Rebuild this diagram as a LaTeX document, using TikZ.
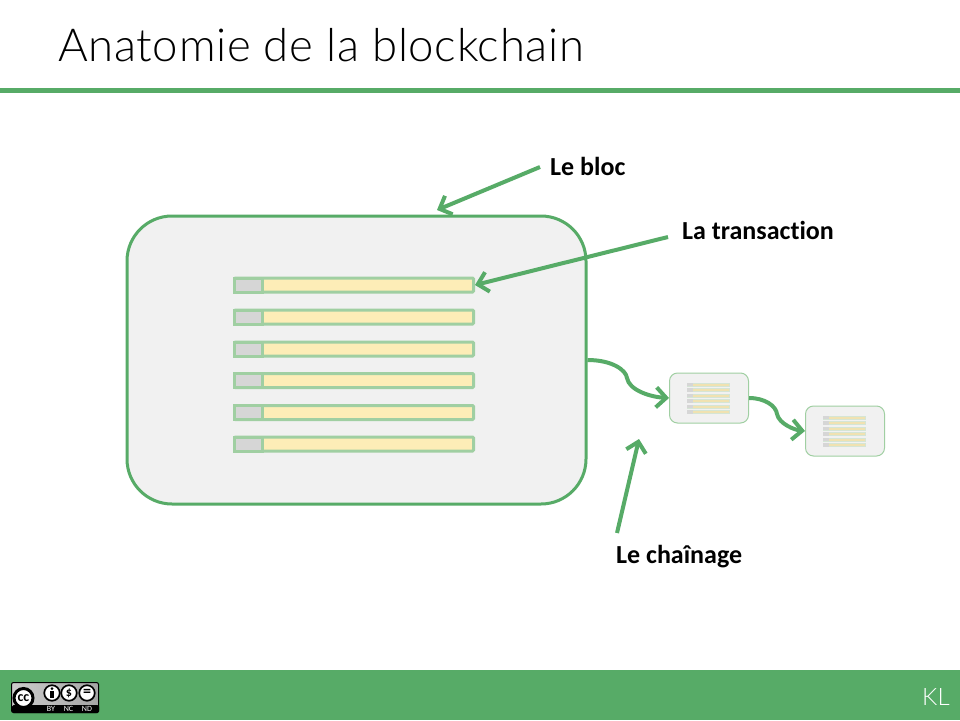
\documentclass[tikz,border=0pt]{standalone}
\usepackage{fontspec}
\setmainfont[Ligatures=NoCommon]{Carlito}
\newfontfamily\titlefont[LetterSpace=1.5]{Lato Light}
\usetikzlibrary{arrows.meta}
\definecolor{kgreen}{HTML}{57AB67}
\definecolor{krow}{HTML}{A0CFA2}
\definecolor{kbloc}{HTML}{F1F1F1}
\definecolor{ktx}{HTML}{FDEDB7}
\definecolor{kid}{HTML}{D6D6D6}
\tikzset{
  bloc/.style={draw=kgreen,fill=kbloc,line width=3pt,rounded corners=45pt,minimum width=459pt,minimum height=288pt,inner sep=0},
  minibloc/.style={draw=krow,fill=kbloc,line width=1pt,rounded corners=8pt,minimum width=79pt,minimum height=50pt,inner sep=0},
  tx/.style={draw=krow,fill=ktx,line width=3pt,rounded corners=1pt,minimum width=239pt,minimum height=14pt,inner sep=0},
  txid/.style={draw=krow,fill=kid,line width=3pt,minimum width=28pt,minimum height=14pt,inner sep=0},
  minitx/.style={draw=krow!35!kbloc,fill=ktx!90!gray,line width=.6pt,minimum width=42.5pt,minimum height=2.8pt,inner sep=0},
  miniid/.style={fill=kid,minimum width=5.5pt,minimum height=3.4pt,inner sep=0},
  lien/.style={draw=kgreen,line width=4pt,-{Straight Barb[length=10pt,width=20pt,line width=4pt]}},
  lbl/.style={font=\bfseries\fontsize{26}{30}\selectfont,anchor=west,inner sep=0},
  ccicon/.style={circle,draw=black,fill=white,line width=1.7pt,minimum size=15.5pt,inner sep=0},
  cctxt/.style={text=white,font=\fontsize{8}{9}\selectfont,inner sep=0}
}
\begin{document}
\begin{tikzpicture}[x=1pt,y=-1pt]
\useasboundingbox (0,0) rectangle (960,720);
\fill[white] (0,0) rectangle (960,720);

% title and footer
\node[anchor=base west,inner sep=0,font=\titlefont\fontsize{45.5}{50}\selectfont] (titre) at (58,61) {Anatomie de la blockchain};
\fill[kgreen] (0,88) rectangle (960,93);
\fill[kgreen] (0,670) rectangle (960,720);
\node[text=white,font=\titlefont\fontsize{24}{26}\selectfont,inner sep=0] (kl) at (936,697) {KL};

% licence badge
\node[draw=black,left color=gray!40,right color=gray!70,line width=1pt,rounded corners=2pt,minimum width=87pt,minimum height=30pt,inner sep=0] (cc) at (55,697.5) {};
\fill[black,rounded corners=1.5pt] (12,705) rectangle (99,713);
\node[ccicon,minimum size=19pt,line width=3pt,font=\bfseries\fontsize{14}{14}\selectfont] (ccmain) at (23.5,698) {cc};
\node[ccicon] (ccby) at (52,693) {};
\node[ccicon,font=\bfseries\fontsize{12}{12}\selectfont] (ccnc) at (69,693) {\$};
\node[ccicon,font=\bfseries\fontsize{16}{16}\selectfont] (ccnd) at (87,693) {=};
\fill[black] (52,688.7) circle (1.5pt);
\fill[black] (50,691) rectangle (54,698);
\node[cctxt] (tby) at (51,709) {BY};
\node[cctxt] (tnc) at (68.5,709) {NC};
\node[cctxt] (tnd) at (87,709) {ND};

% big block
\node[bloc] (bloc) at (356.5,360) {};
\foreach \n/\y in {1/285,2/317,3/349,4/380.5,5/412.5,6/444}{
  \node[tx] (tx\n) at (354,\y) {};
  \node[txid] (id\n) at (248,\y) {};
}

% small blocks
\node[minibloc] (bloca) at (709,398) {};
\node[minibloc] (blocb) at (845,431) {};
\foreach \bx/\by in {709/398,845/431}{
  \foreach \dy in {-13.5,-8,-2.5,3,8.5,14}{
    \node[minitx] at (\bx-.5,\by+\dy) {};
    \node[miniid] at (\bx-19,\by+\dy) {};
  }
}

% free ends
\coordinate (cbloc) at (540,167);
\coordinate (ptbloc) at (437,210);
\coordinate (ctrans) at (668,237);
\coordinate (cchain) at (617,533);
\coordinate (ptchain) at (639,439);

% labels
\node[lbl] (lbloc) at (550,166) {Le bloc};
\node[lbl] (ltrans) at (682,230) {La transaction};
\node[lbl] (lchain) at (616,556.5) {Le chaînage};

\path[lien] (cbloc) -- (ptbloc);
\path[lien] (ctrans) -- (tx1.east);
\path[lien] (cchain) -- (ptchain);
\path[lien] (bloc.east) .. controls (612,360) and (626,370) .. (627,378) .. controls (629,390) and (650,397) .. (bloca.west);
\path[lien] (bloca.east) .. controls (765,398) and (776,406) .. (777,414) .. controls (779,424) and (795,430) .. (blocb.west);
\end{tikzpicture}
\end{document}
